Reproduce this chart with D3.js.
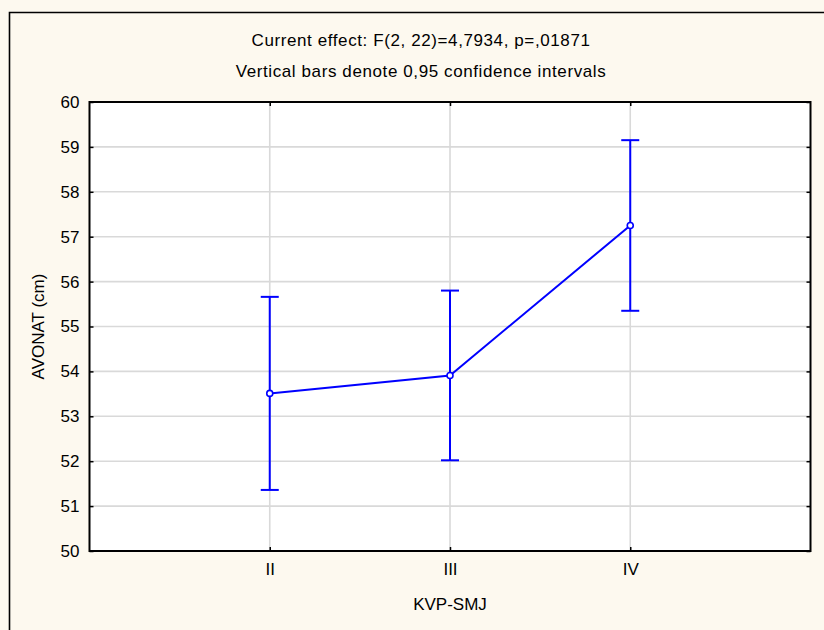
<!DOCTYPE html>
<html><head><meta charset="utf-8">
<script src="https://cdn.jsdelivr.net/npm/d3@7"></script>
<style>body{margin:0;background:#fff}svg{display:block}text{font-family:"Liberation Sans",Arial,sans-serif;fill:#000}</style>
</head><body><svg id="c" width="824" height="630"></svg>
<script>
const categories = ["II", "III", "IV"];
const means = [53.51, 53.91, 57.25];
const lower = [51.36, 52.02, 55.35];
const upper = [55.66, 55.80, 59.15];
const yTicks = [50, 51, 52, 53, 54, 55, 56, 57, 58, 59, 60];
const title1 = "Current effect: F(2, 22)=4,7934, p=,01871";
const title2 = "Vertical bars denote 0,95 confidence intervals";
const xTitle = "KVP-SMJ";
const yTitle = "AVONAT (cm)";

const svg = d3.select("#c");
const L = 89.5, R = 810.5, T = 102, B = 551;
const x = d3.scalePoint().domain(categories).range([L, R]).padding(1);
const y = d3.scaleLinear().domain([50, 60]).range([B, T]);

svg.append("rect").attr("width", 824).attr("height", 630).attr("fill", "#fdf9ef");
svg.append("path").attr("d", "M9.5,640V12.5H830").attr("fill", "none").attr("stroke", "#000").attr("stroke-width", 1.6);
svg.append("rect").attr("x", L).attr("y", T).attr("width", R - L).attr("height", B - T).attr("fill", "#fff");

// grid
svg.append("g").selectAll("line").data(yTicks.slice(1, -1)).join("line")
  .attr("x1", L).attr("x2", R).attr("y1", d => y(d)).attr("y2", d => y(d))
  .attr("stroke", "#d9d9d9").attr("stroke-width", 1.6);
svg.append("g").selectAll("line").data(categories).join("line")
  .attr("x1", d => x(d)).attr("x2", d => x(d)).attr("y1", T).attr("y2", B)
  .attr("stroke", "#d9d9d9").attr("stroke-width", 1.6);

// axes with inward ticks
const yAxis = svg.append("g").attr("transform", `translate(${L},0)`)
  .call(d3.axisLeft(y).tickValues(yTicks).tickSize(-4).tickPadding(10).tickFormat(d3.format("d")));
yAxis.select(".domain").remove();
yAxis.selectAll("line").attr("stroke", "#000").attr("stroke-width", 1.5);
yAxis.selectAll("text").style("font-size", "17px").attr("font-family", null);

const xAxis = svg.append("g").attr("transform", `translate(0,${B})`)
  .call(d3.axisBottom(x).tickSize(-4).tickPadding(12));
xAxis.select(".domain").remove();
xAxis.selectAll("line").attr("stroke", "#000").attr("stroke-width", 1.5);
xAxis.selectAll("text").style("font-size", "17px").attr("font-family", null);
const xTop = svg.append("g").attr("transform", `translate(0,${T})`)
  .call(d3.axisTop(x).tickSize(-4).tickFormat(""));
xTop.select(".domain").remove();
xTop.selectAll("line").attr("stroke", "#000").attr("stroke-width", 1.5);
const yRight = svg.append("g").attr("transform", `translate(${R},0)`)
  .call(d3.axisRight(y).tickValues(yTicks).tickSize(-4).tickFormat(""));
yRight.select(".domain").remove();
yRight.selectAll("line").attr("stroke", "#000").attr("stroke-width", 1.5);

svg.append("rect").attr("x", L).attr("y", T).attr("width", R - L).attr("height", B - T)
  .attr("fill", "none").attr("stroke", "#000").attr("stroke-width", 2);

// data
const blue = "#0000ff";
const data = categories.map((c, i) => ({c, m: means[i], lo: lower[i], hi: upper[i]}));
const g = svg.append("g");
g.selectAll(".ci").data(data).join("line")
  .attr("x1", d => x(d.c)).attr("x2", d => x(d.c)).attr("y1", d => y(d.lo)).attr("y2", d => y(d.hi))
  .attr("stroke", blue).attr("stroke-width", 2);
["lo", "hi"].forEach(k => {
  g.selectAll(".cap" + k).data(data).join("line")
    .attr("x1", d => x(d.c) - 9).attr("x2", d => x(d.c) + 9).attr("y1", d => y(d[k])).attr("y2", d => y(d[k]))
    .attr("stroke", blue).attr("stroke-width", 2);
});
g.append("path").datum(data)
  .attr("d", d3.line().x(d => x(d.c)).y(d => y(d.m)))
  .attr("fill", "none").attr("stroke", blue).attr("stroke-width", 2);
g.selectAll("circle").data(data).join("circle")
  .attr("cx", d => x(d.c)).attr("cy", d => y(d.m)).attr("r", 3)
  .attr("fill", "#fff").attr("stroke", blue).attr("stroke-width", 1.6);

// titles
svg.append("text").attr("x", 421).attr("y", 42).attr("text-anchor", "middle").attr("dominant-baseline", "middle")
  .style("font-size", "17px").style("letter-spacing", "0.6px").text(title1);
svg.append("text").attr("x", 421).attr("y", 73).attr("text-anchor", "middle").attr("dominant-baseline", "middle")
  .style("font-size", "17px").style("letter-spacing", "0.6px").text(title2);
svg.append("text").attr("x", 450).attr("y", 606).attr("text-anchor", "middle").attr("dominant-baseline", "middle")
  .style("font-size", "17px").text(xTitle);
svg.append("text").attr("transform", `translate(40,${(T + B) / 2}) rotate(-90)`).attr("text-anchor", "middle")
  .attr("dominant-baseline", "middle").style("font-size", "17px").text(yTitle);
</script></body></html>
